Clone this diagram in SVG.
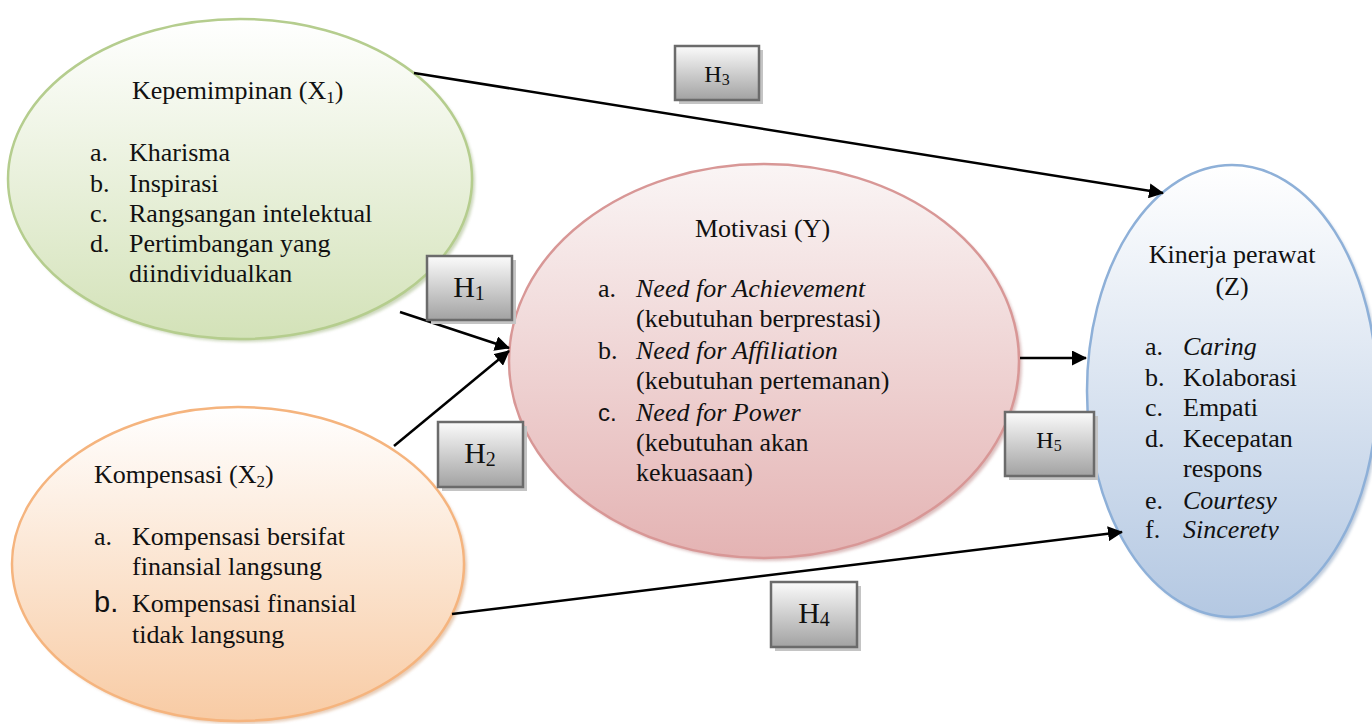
<svg xmlns="http://www.w3.org/2000/svg" width="1372" height="724" viewBox="0 0 1372 724">
<defs>
<linearGradient id="gGreen" x1="0" y1="0" x2="0" y2="1"><stop offset="0" stop-color="#ffffff"/><stop offset="1" stop-color="#d3e2b8"/></linearGradient>
<linearGradient id="gOrange" x1="0" y1="0" x2="0" y2="1"><stop offset="0" stop-color="#ffffff"/><stop offset="1" stop-color="#f8cba4"/></linearGradient>
<linearGradient id="gPink" x1="0" y1="0" x2="0" y2="1"><stop offset="0" stop-color="#faf5f5"/><stop offset="1" stop-color="#e4b3b3"/></linearGradient>
<linearGradient id="gBlue" x1="0" y1="0" x2="0" y2="1"><stop offset="0" stop-color="#ffffff"/><stop offset="1" stop-color="#b4c8e2"/></linearGradient>
<linearGradient id="gBox" x1="0" y1="0" x2="0" y2="1"><stop offset="0" stop-color="#fbfbfb"/><stop offset="1" stop-color="#a2a2a2"/></linearGradient>
<filter id="blur" x="-10%" y="-10%" width="120%" height="120%"><feGaussianBlur stdDeviation="1.5"/></filter>
<marker id="arr" markerWidth="6" markerHeight="6" refX="5.6" refY="3" orient="auto" markerUnits="strokeWidth"><path d="M0,0 L6,3 L0,6 Z" fill="#000"/></marker>
<clipPath id="clipZ"><rect x="1080" y="150" width="300" height="390"/></clipPath>
<style>
.t{font-family:"Liberation Serif","Times New Roman",serif;font-size:26px;fill:#111}
.i{font-style:italic}
.h{font-family:"Liberation Serif","Times New Roman",serif;fill:#111}
.box{fill:url(#gBox);stroke:#6b6b6b;stroke-width:2.5}
.bsh{fill:#c4c4c4}
.con{stroke:#000;stroke-width:2.5;fill:none;marker-end:url(#arr)}
.sh{filter:url(#blur);opacity:0.55}
</style>
</defs>

<g id="node-x1">
<ellipse class="sh" cx="243" cy="182" rx="232" ry="160" fill="#a3b784"/>
<ellipse cx="240" cy="179" rx="232" ry="160" fill="url(#gGreen)" stroke="#b5cd8e" stroke-width="2.5"/>
<text class="t" x="132" y="99">Kepemimpinan (X<tspan font-size="17" dy="4">1</tspan><tspan dy="-4">)</tspan></text>
<text class="t" x="90" y="161">a.</text><text class="t" x="129" y="161">Kharisma</text>
<text class="t" x="90" y="192">b.</text><text class="t" x="129" y="192">Inspirasi</text>
<text class="t" x="90" y="222">c.</text><text class="t" x="129" y="222">Rangsangan intelektual</text>
<text class="t" x="90" y="252">d.</text><text class="t" x="129" y="252">Pertimbangan yang</text>
<text class="t" x="129" y="282">diindividualkan</text>
</g>

<g id="node-x2">
<ellipse class="sh" cx="241" cy="567" rx="226" ry="157" fill="#d4a27a"/>
<ellipse cx="238" cy="564" rx="226" ry="157" fill="url(#gOrange)" stroke="#f5b47e" stroke-width="2.5"/>
<text class="t" x="94" y="483">Kompensasi (X<tspan font-size="17" dy="4">2</tspan><tspan dy="-4">)</tspan></text>
<text class="t" x="94" y="545">a.</text><text class="t" x="132" y="545">Kompensasi bersifat</text>
<text class="t" x="132" y="575">finansial langsung</text>
<text class="t" x="94" y="612" style="font-family:'Liberation Sans',Arial,sans-serif;font-size:29px">b.</text><text class="t" x="132" y="612">Kompensasi finansial</text>
<text class="t" x="132" y="643">tidak langsung</text>
</g>

<g id="node-y">
<ellipse class="sh" cx="767" cy="364" rx="255" ry="197" fill="#c08a8a"/>
<ellipse cx="764" cy="361" rx="255" ry="197" fill="url(#gPink)" stroke="#d89796" stroke-width="2.5"/>
<text class="t" x="695" y="237">Motivasi (Y)</text>
<text class="t" x="598" y="297">a.</text><text class="t i" x="636" y="297">Need for Achievement</text>
<text class="t" x="636" y="327">(kebutuhan berprestasi)</text>
<text class="t" x="598" y="359">b.</text><text class="t i" x="636" y="359">Need for Affiliation</text>
<text class="t" x="636" y="389">(kebutuhan pertemanan)</text>
<text class="t" x="598" y="421" style="font-family:'Liberation Sans',Arial,sans-serif;font-size:24px">c.</text><text class="t i" x="636" y="421">Need for Power</text>
<text class="t" x="636" y="451">(kebutuhan akan</text>
<text class="t" x="636" y="481">kekuasaan)</text>
</g>

<g id="node-z">
<ellipse class="sh" cx="1235" cy="394" rx="145" ry="226" fill="#8da3c0"/>
<ellipse cx="1232" cy="391" rx="145" ry="226" fill="url(#gBlue)" stroke="#8eb0d8" stroke-width="2.5"/>
<text class="t" x="1232" y="263" text-anchor="middle">Kinerja perawat</text>
<text class="t" x="1232" y="295" text-anchor="middle">(Z)</text>
<text class="t" x="1145" y="355">a.</text><text class="t i" x="1183" y="355">Caring</text>
<text class="t" x="1145" y="386">b.</text><text class="t" x="1183" y="386">Kolaborasi</text>
<text class="t" x="1145" y="416">c.</text><text class="t" x="1183" y="416">Empati</text>
<text class="t" x="1145" y="447">d.</text><text class="t" x="1183" y="447">Kecepatan</text>
<text class="t" x="1183" y="477">respons</text>
<text class="t" x="1145" y="509">e.</text><text class="t i" x="1183" y="509">Courtesy</text>
<g clip-path="url(#clipZ)"><text class="t" x="1145" y="538">f.</text><text class="t i" x="1183" y="538">Sincerety</text></g>
</g>

<g id="connectors">
<line class="con" x1="414" y1="73" x2="1163" y2="193"/>
<line class="con" x1="400" y1="312" x2="509" y2="348"/>
<line class="con" x1="394" y1="446" x2="509" y2="351"/>
<line class="con" x1="1020" y1="358" x2="1086" y2="358"/>
<line class="con" x1="452" y1="614" x2="1122" y2="532"/>
</g>

<g id="label-h1">
<rect class="bsh" x="431" y="260" width="85" height="64"/>
<rect class="box" x="427" y="256" width="85" height="64"/>
<text class="h" x="469" y="297" text-anchor="middle" font-size="30">H<tspan font-size="20" dy="3">1</tspan></text>
</g>
<g id="label-h2">
<rect class="bsh" x="442" y="426" width="85" height="65"/>
<rect class="box" x="438" y="422" width="85" height="65"/>
<text class="h" x="480" y="463" text-anchor="middle" font-size="30">H<tspan font-size="20" dy="3">2</tspan></text>
</g>
<g id="label-h3">
<rect class="bsh" x="679" y="50" width="84" height="54"/>
<rect class="box" x="675" y="46" width="84" height="54"/>
<text class="h" x="717" y="82" text-anchor="middle" font-size="24">H<tspan font-size="16" dy="3">3</tspan></text>
</g>
<g id="label-h4">
<rect class="bsh" x="775" y="586" width="86" height="65"/>
<rect class="box" x="771" y="582" width="86" height="65"/>
<text class="h" x="814" y="623" text-anchor="middle" font-size="30">H<tspan font-size="20" dy="3">4</tspan></text>
</g>
<g id="label-h5">
<rect class="bsh" x="1009" y="416" width="89" height="64"/>
<rect class="box" x="1005" y="412" width="89" height="64"/>
<text class="h" x="1049" y="448" text-anchor="middle" font-size="24">H<tspan font-size="16" dy="3">5</tspan></text>
</g>
</svg>
